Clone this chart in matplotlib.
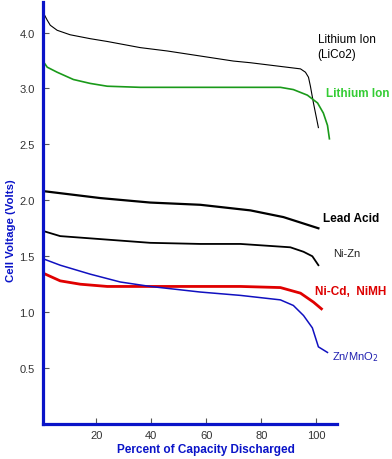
import numpy as np
import matplotlib
matplotlib.use("Agg")
import matplotlib.pyplot as plt

plt.rcParams['font.family'] = ['Liberation Sans', 'DejaVu Sans']

# discharge curves: (percent discharged, volts)
licoo2_x = [0.7, 2.2, 3.3, 5.8, 10.5, 17.8, 24.0, 36.0, 45.8, 57.8, 69.8, 76.0,
            94.2, 96.0, 97.1, 97.8, 98.9, 100.7]
licoo2_v = [4.36, 4.22, 4.13, 4.04, 3.96, 3.89, 3.84, 3.73, 3.67, 3.58, 3.49, 3.46,
            3.35, 3.29, 3.20, 3.04, 2.87, 2.65]

liion_x = [0.7, 1.2, 2.2, 5.8, 11.7, 17.8, 24.0, 36.0, 57.8, 86.9, 91.6, 96.7,
           100.4, 102.5, 104.0, 104.7]
liion_v = [3.49, 3.45, 3.38, 3.29, 3.16, 3.09, 3.04, 3.02, 3.02, 3.02, 2.99, 2.94,
           2.87, 2.78, 2.67, 2.55]

lead_x = [1.5, 21.5, 39.6, 57.8, 76.0, 88.0, 100.7]
lead_v = [2.08, 2.02, 1.98, 1.96, 1.91, 1.85, 1.75]

nizn_x = [1.5, 6.9, 17.8, 39.6, 57.8, 72.4, 90.5, 95.3, 98.5, 100.7]
nizn_v = [1.72, 1.68, 1.66, 1.62, 1.61, 1.61, 1.58, 1.54, 1.50, 1.42]

nicd_x = [1.5, 6.9, 14.2, 24.0, 36.0, 57.8, 72.4, 86.9, 94.2, 98.9, 101.8]
nicd_v = [1.34, 1.28, 1.25, 1.23, 1.23, 1.23, 1.23, 1.22, 1.17, 1.09, 1.03]

znmn_x = [1.5, 6.9, 17.8, 28.7, 39.6, 57.8, 72.4, 86.9, 91.6, 95.3, 98.5, 100.7, 104.0]
znmn_v = [1.47, 1.42, 1.34, 1.27, 1.23, 1.18, 1.15, 1.11, 1.06, 0.97, 0.86, 0.69, 0.64]

y_ticks = [0.5, 1.0, 1.5, 2.0, 2.5, 3.0, 4.0]
x_ticks = [20, 40, 60, 80, 100]

blue = '#0a14c8'


# the y axis is squeezed above 3.0 V (3.0 -> 4.0 takes one half-step)
def fwd(v):
    v = np.asarray(v, dtype=float)
    return np.where(v <= 3.0, v, 3.0 + (v - 3.0) * 0.5)


def inv(p):
    p = np.asarray(p, dtype=float)
    return np.where(p <= 3.0, p, 3.0 + (p - 3.0) * 2.0)


fig = plt.figure(figsize=(3.92, 4.6), dpi=100)
ax = fig.add_axes([0.11, 0.076, 0.75, 0.918])
ax.set_yscale('function', functions=(fwd, inv))

ax.plot(licoo2_x, licoo2_v, color='black', lw=0.8)
ax.plot(liion_x, liion_v, color='#1a9a1a', lw=1.2)
ax.plot(lead_x, lead_v, color='black', lw=1.6)
ax.plot(nizn_x, nizn_v, color='black', lw=1.3)
ax.plot(nicd_x, nicd_v, color='#e00000', lw=2.0)
ax.plot(znmn_x, znmn_v, color='#1010c0', lw=1.1)

ax.set_xlim(0.7, 107.5)
ax.set_ylim(0.0, 4.55)

ax.set_yticks(y_ticks)
ax.set_yticklabels([f"{t:.1f}" for t in y_ticks])
ax.set_xticks(x_ticks)
ax.minorticks_off()
ax.tick_params(axis='both', direction='in', length=4, width=0.8, color='#555555',
               labelsize=8, labelcolor='#333333', pad=4)
ax.tick_params(axis='y', pad=6)

for s in ['top', 'right']:
    ax.spines[s].set_visible(False)
for s in ['left', 'bottom']:
    ax.spines[s].set_color(blue)
    ax.spines[s].set_linewidth(2.3)

ax.set_xlabel("Percent of Capacity Discharged", color=blue, fontweight='bold',
              fontsize=8.5)
ax.set_ylabel("Cell Voltage (Volts)", color=blue, fontweight='bold',
              fontsize=8.2)
ax.xaxis.set_label_coords(0.555, -0.045)
ax.yaxis.set_label_coords(-0.093, 0.46)

ax.text(100.4, 3.89, "Lithium Ion", fontsize=8.5, va='center', color='black')
ax.text(100.4, 3.62, "(LiCo2)", fontsize=8.5, va='center', color='black')
ax.text(103.3, 2.96, "Lithium Ion", fontsize=8.5, va='center', color='#33cc33',
        fontweight='bold')
ax.text(102.2, 1.84, "Lead Acid", fontsize=8.5, va='center', color='black',
        fontweight='bold')
ax.text(106.2, 1.53, "Ni-Zn", fontsize=8, va='center', color='#222222')
ax.text(99.3, 1.19, "Ni-Cd,  NiMH", fontsize=8.5, va='center', color='#dd0000',
        fontweight='bold')
ax.text(105.5, 0.61, "Zn/MnO$_2$", fontsize=8, va='center', color='#2020b0')

fig.savefig("out.png", dpi=100)
